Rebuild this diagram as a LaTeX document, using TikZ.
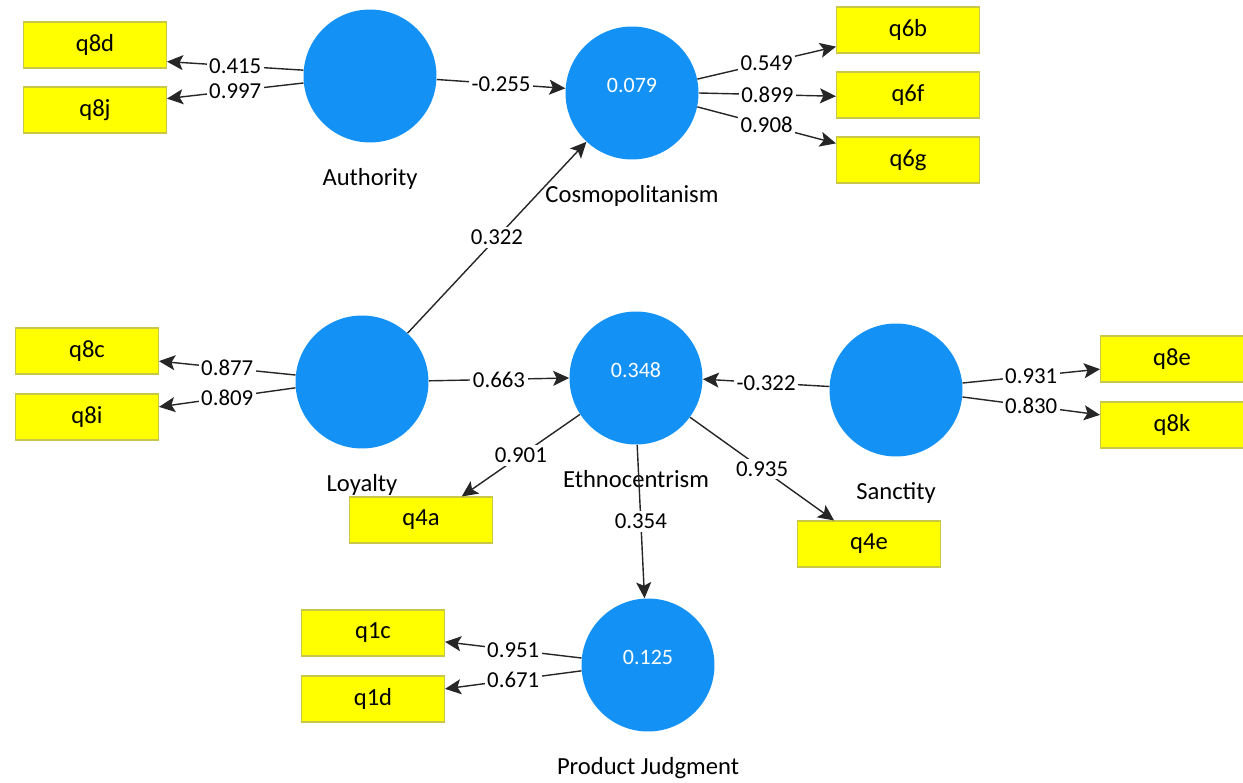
\documentclass[tikz,border=0pt]{standalone}
\usepackage{fontspec}
\setmainfont{Carlito}
\usepackage{tikz}
\usetikzlibrary{arrows.meta}
\usetikzlibrary{positioning}

\definecolor{plsblue}{RGB}{20,145,245}
\definecolor{plsyellow}{RGB}{255,255,0}
\definecolor{plsborder}{RGB}{200,200,70}

\begin{document}
\begin{tikzpicture}[x=0.02cm,y=-0.02cm,
lv/.style={circle,fill=plsblue,minimum size=2.66cm,inner sep=0pt,text=white,text depth=0.32cm,font=\fontsize{12.5}{14}\selectfont},
ind/.style={rectangle,fill=plsyellow,draw=plsborder,line width=0.6pt,minimum width=2.86cm,minimum height=0.92cm,inner sep=0pt,font=\fontsize{14}{16}\selectfont},
lvname/.style={inner sep=0pt,anchor=north,font=\fontsize{14}{16}\selectfont},
link/.style={draw=black!85,line width=0.8pt,-{Stealth[length=0.32cm,width=0.3cm,inset=0.07cm]}},
coef/.style={fill=white,inner sep=1.5pt,font=\fontsize{13}{15}\selectfont}]

\useasboundingbox (0,0) rectangle (1243,783);

% latent variables
\node[lv] (auth) at (370,76) {};
\node[lv] (cosmo) at (632,93) {0.079};
\node[lv] (loyal) at (362,382) {};
\node[lv] (ethno) at (636,378) {0.348};
\node[lv] (sanct) at (896,390) {};
\node[lv] (prodj) at (648,665) {0.125};

\node[lvname,below=0.5cm of auth] (auth name) {Authority};
\node[lvname,below=0.5cm of cosmo] (cosmo name) {Cosmopolitanism};
\node[lvname,below=0.5cm of loyal] (loyal name) {Loyalty};
\node[lvname,below=0.5cm of ethno] (ethno name) {Ethnocentrism};
\node[lvname,below=0.5cm of sanct] (sanct name) {Sanctity};
\node[lvname,below=0.5cm of prodj] (prodj name) {Product Judgment};

% indicators
\node[ind] (q8d) at (95,45) {q8d};
\node[ind] (q8j) at (95,110) {q8j};
\node[ind] (q6b) at (908,30) {q6b};
\node[ind] (q6f) at (908,95) {q6f};
\node[ind] (q6g) at (908,160) {q6g};
\node[ind] (q8c) at (87,351) {q8c};
\node[ind] (q8i) at (87,417) {q8i};
\node[ind] (q4a) at (421,520) {q4a};
\node[ind] (q4e) at (869,544) {q4e};
\node[ind] (q8e) at (1172,359) {q8e};
\node[ind] (q8k) at (1172,425) {q8k};
\node[ind] (q1c) at (373,633) {q1c};
\node[ind] (q1d) at (373,699) {q1d};

% paths
\draw[link] (auth.-3) -- node[coef] (w auth cosmo) {-0.255} (cosmo.176);
\draw[link] (loyal.47) -- node[coef] (w loyal cosmo) {0.322} (cosmo.227);
\draw[link] (loyal.1) -- node[coef] (w loyal ethno) {0.663} (ethno.180);
\draw[link] (sanct.177) -- node[coef] (w sanct ethno) {-0.322} (ethno.-1);
\draw[link] (ethno.-89) -- node[coef] (w ethno prodj) {0.354} (prodj.93);

% loadings
\draw[link] (auth.175) -- node[coef] (w q8d) {0.415} (q8d.-13);
\draw[link] (auth.186) -- node[coef] (w q8j) {0.997} (q8j.9);
\draw[link] (cosmo.12) -- node[coef] (w q6b) {0.549} (q6b.193);
\draw[link] (cosmo.0) -- node[coef] (w q6f) {0.899} (q6f.181);
\draw[link] (cosmo.-12) -- node[coef] (w q6g) {0.908} (q6g.167);
\draw[link] (loyal.174) -- node[coef] (w q8c) {0.877} (q8c.-8);
\draw[link] (loyal.185) -- node[coef] (w q8i) {0.809} (q8i.8);
\draw[link] (ethno.213) -- node[coef] (w q4a) {0.901} (q4a.30);
\draw[link] (ethno.-36) -- node[coef] (w q4e) {0.935} (q4e.146);
\draw[link] (sanct.6) -- node[coef] (w q8e) {0.931} (q8e.188);
\draw[link] (sanct.-6) -- node[coef] (w q8k) {0.830} (q8k.172);
\draw[link] (prodj.174) -- node[coef] (w q1c) {0.951} (q1c.-7);
\draw[link] (prodj.185) -- node[coef] (w q1d) {0.671} (q1d.8);

\end{tikzpicture}
\end{document}
